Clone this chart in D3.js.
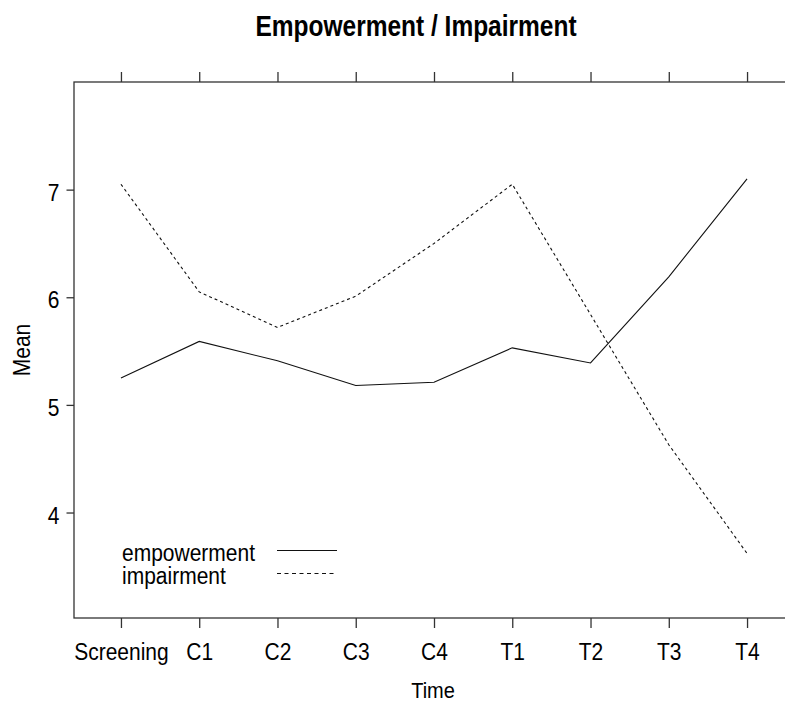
<!DOCTYPE html>
<html>
<head>
<meta charset="utf-8">
<script src="https://cdn.jsdelivr.net/npm/d3@7"></script>
<style>
  html, body { margin: 0; padding: 0; background: #fff; }
  svg { display: block; }
  text { font-family: "Liberation Sans", Arial, sans-serif; fill: #000; }
</style>
</head>
<body>
<div id="chart"></div>
<script>
// ---- data ----
const categories = ["Screening", "C1", "C2", "C3", "C4", "T1", "T2", "T3", "T4"];
const empowerment = [5.25, 5.59, 5.41, 5.18, 5.21, 5.53, 5.39, 6.19, 7.10];
const impairment  = [7.05, 6.05, 5.72, 6.01, 6.50, 7.05, 5.84, 4.63, 3.62];
const yTicks = [4, 5, 6, 7];
const seriesNames = ["empowerment", "impairment"];
const titleText = "Empowerment / Impairment";
const xLabel = "Time";
const yLabel = "Mean";

// ---- layout ----
const W = 785, H = 705;
const box = { left: 74, top: 82, right: 794, bottom: 618 };
const stretch = 1.1;

const svg = d3.select("#chart").append("svg")
  .attr("width", W).attr("height", H);

const x = d3.scalePoint().domain(categories).range([box.left, box.right]).padding(0.6);
const y = d3.scaleLinear().domain([3.02, 8.0]).range([box.bottom, box.top]);

// box
svg.append("rect")
  .attr("x", box.left).attr("y", box.top)
  .attr("width", box.right - box.left).attr("height", box.bottom - box.top)
  .attr("fill", "none").attr("stroke", "#333").attr("stroke-width", 1.3);

// bottom axis
const xAxisB = svg.append("g").attr("transform", `translate(0,${box.bottom})`)
  .call(d3.axisBottom(x).tickSize(10).tickPadding(0));
xAxisB.select(".domain").remove();
xAxisB.selectAll(".tick line").attr("stroke", "#333").attr("stroke-width", 1.3);
xAxisB.selectAll(".tick text").remove();
xAxisB.selectAll(".tick").append("text")
  .attr("text-anchor", "middle")
  .attr("transform", `translate(0,42) scale(1,${stretch})`)
  .style("font-size", "21px")
  .text(d => d);

// top axis (ticks only)
const xAxisT = svg.append("g").attr("transform", `translate(0,${box.top})`)
  .call(d3.axisTop(x).tickSize(10).tickFormat(""));
xAxisT.select(".domain").remove();
xAxisT.selectAll(".tick line").attr("stroke", "#333").attr("stroke-width", 1.3);

// left axis
const yAxis = svg.append("g").attr("transform", `translate(${box.left},0)`)
  .call(d3.axisLeft(y).tickValues(yTicks).tickSize(7.5).tickPadding(0));
yAxis.select(".domain").remove();
yAxis.selectAll(".tick line").attr("stroke", "#333").attr("stroke-width", 1.3);
yAxis.selectAll(".tick text").remove();
yAxis.selectAll(".tick").append("text")
  .attr("text-anchor", "end")
  .attr("transform", `translate(-14.5,10.5) scale(1,1.18)`)
  .style("font-size", "21px")
  .text(d => d);

// lines
const line = d3.line()
  .x((d, i) => x(categories[i]))
  .y(d => y(d));

svg.append("path").datum(empowerment)
  .attr("d", line).attr("fill", "none")
  .attr("stroke", "#111").attr("stroke-width", 1.1);

svg.append("path").datum(impairment)
  .attr("d", line).attr("fill", "none")
  .attr("stroke", "#111").attr("stroke-width", 1.1)
  .attr("stroke-dasharray", "3,3");

// legend
const legend = svg.append("g");
const legendDash = [null, "4,3.5"];
seriesNames.forEach((name, i) => {
  const ly = 561 + i * 23;
  legend.append("text")
    .attr("transform", `translate(122,${ly}) scale(1,${stretch})`)
    .style("font-size", "21px")
    .text(name);
  legend.append("line")
    .attr("x1", 277).attr("x2", i === 0 ? 337 : 334)
    .attr("y1", ly - 10.5).attr("y2", ly - 10.5)
    .attr("stroke", "#111").attr("stroke-width", 1.1)
    .attr("stroke-dasharray", legendDash[i]);
});

// title
svg.append("text")
  .attr("text-anchor", "middle")
  .attr("transform", `translate(416,36) scale(1,1.22)`)
  .style("font-size", "24.5px").style("font-weight", "bold")
  .text(titleText);

// axis labels
svg.append("text")
  .attr("text-anchor", "middle")
  .attr("transform", `translate(433,698) scale(1,${stretch})`)
  .style("font-size", "20px")
  .text(xLabel);

svg.append("text")
  .attr("text-anchor", "middle")
  .attr("transform", `translate(30,350) rotate(-90) scale(1,1.12)`)
  .style("font-size", "21px")
  .text(yLabel);
</script>
</body>
</html>
